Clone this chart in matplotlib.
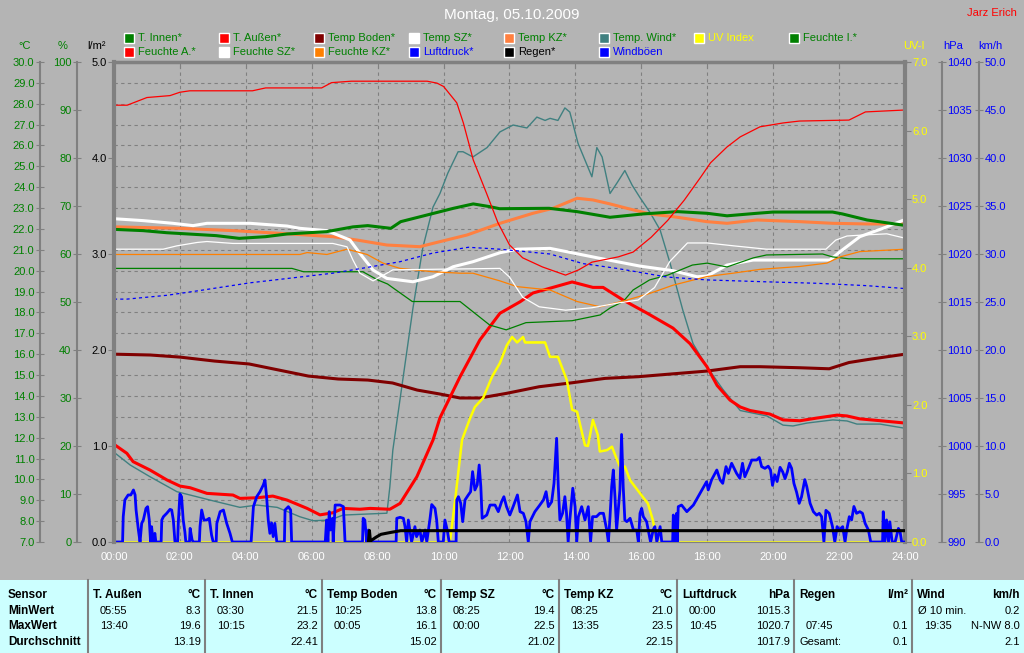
import numpy as np
import matplotlib
matplotlib.use('Agg')
import matplotlib.pyplot as plt
import matplotlib.ticker as ticker
from matplotlib.patches import Rectangle
from matplotlib.lines import Line2D

plt.rcParams['font.family'] = ['Liberation Sans', 'DejaVu Sans']
plt.rcParams['font.size'] = 8

BG = '#b4b4b4'
GRID = '#808080'
GREEN = '#008000'
BLUE = '#0000ff'
YELLOW = '#ffff00'

# ---- data (hours of day, values) ----
t_innen_h = [0, 0.88, 1.6, 3.1, 3.8, 4.6, 5.25, 6.45, 7.25, 7.7, 8.4, 8.7, 9.7, 10.3, 10.9, 11.4, 11.7,
             13.2, 14.05, 15.05, 16.05, 17.1, 18.0, 18.6, 19.5, 20.0, 21.8, 22.1, 22.85, 24.0]
t_innen = [21.98, 21.92, 21.82, 21.68, 21.55, 21.63, 21.76, 21.87, 22.1, 22.16, 22.03, 22.35, 22.75, 22.99,
           23.2, 23.07, 22.97, 22.99, 22.83, 22.56, 22.72, 22.83, 22.75, 22.63, 22.75, 22.81, 22.81, 22.72,
           22.43, 22.17]

t_aussen_h = [0, 0.39, 0.58, 1.09, 1.61, 2.0, 2.31, 2.82, 3.61, 3.82, 4.34, 4.82, 5.25, 5.86, 6.25, 6.64,
              6.95, 7.46, 7.77, 8.37, 8.68, 9.19, 9.68, 9.89, 10.5, 11.1, 11.71, 12.32, 12.71, 13.9, 14.53,
              14.84, 15.44, 16.17, 16.96, 17.48, 17.99, 18.3, 18.69, 19.0, 19.3, 19.9, 20.3, 20.81, 21.33,
              21.94, 22.24, 22.63, 23.33, 24.0]
t_aussen = [11.68, 11.25, 10.85, 10.45, 9.97, 9.68, 9.6, 9.33, 9.25, 9.09, 9.12, 9.2, 9.01, 8.61, 8.3, 8.4,
            8.61, 8.57, 8.61, 8.57, 8.85, 10.13, 11.89, 12.95, 14.92, 16.68, 17.96, 18.51, 18.93, 19.46,
            19.2, 19.2, 18.6, 17.97, 17.25, 16.5, 15.4, 14.5, 13.8, 13.47, 13.3, 13.13, 12.85, 12.81, 12.94,
            13.08, 13.04, 12.9, 12.8, 12.7]

t_boden_h = [0, 1.1, 2.0, 3.05, 4.1, 5.0, 5.9, 6.8, 7.7, 8.45, 9.2, 9.89, 10.5, 11.1, 11.9, 12.9, 13.9,
             14.9, 15.9, 16.9, 17.99, 19.0, 19.6, 20.8, 21.7, 22.3, 22.9, 24.0]
t_boden = [16.0, 15.96, 15.86, 15.67, 15.53, 15.24, 14.95, 14.81, 14.76, 14.62, 14.28, 14.09, 13.9, 13.9,
           14.12, 14.44, 14.63, 14.84, 14.92, 15.05, 15.19, 15.4, 15.4, 15.35, 15.3, 15.6, 15.75, 16.0]

t_sz_h = [0, 0.88, 1.79, 2.4, 2.82, 4.13, 5.25, 5.64, 6.46, 7.16, 7.46, 7.86, 8.28, 9.07, 9.68, 10.29,
          10.89, 11.71, 12.23, 13.23, 13.74, 14.75, 15.96, 16.96, 17.69, 17.99, 18.6, 19.39, 20.81, 21.72,
          22.03, 22.63, 23.33, 24.0]
t_sz = [22.49, 22.4, 22.27, 22.16, 22.27, 22.27, 22.14, 22.03, 21.92, 21.47, 20.83, 20.03, 19.63, 19.47,
        19.71, 20.19, 20.43, 20.86, 21.03, 21.07, 20.91, 20.59, 20.22, 20.0, 19.71, 19.74, 20.27, 20.51,
        20.51, 20.51, 20.91, 21.63, 22.03, 22.45]

t_kz_h = [0, 2.0, 3.61, 5.04, 6.64, 7.37, 8.28, 9.28, 9.68, 10.71, 11.71, 12.71, 13.32, 14.05, 14.53, 15.05,
          15.56, 16.26, 16.96, 17.99, 18.6, 19.51, 20.81, 21.81, 22.85, 24.0]
t_kz = [22.1, 22.03, 21.92, 21.79, 21.63, 21.47, 21.23, 21.15, 21.31, 21.71, 22.27, 22.75, 22.99, 23.47,
        23.39, 23.2, 22.99, 22.72, 22.59, 22.35, 22.27, 22.43, 22.35, 22.27, 22.24, 22.24]

t_wind_h = [0, 0.49, 1.09, 1.91, 2.31, 2.91, 3.82, 4.34, 4.95, 5.64, 6.04, 6.55, 6.95, 7.68, 8.28, 8.37,
            8.46, 8.59, 9.07, 9.37, 9.68, 9.89, 10.13, 10.44, 10.59, 10.89, 11.32, 11.71, 12.11, 12.53,
            12.83, 13.08, 13.23, 13.47, 13.68, 13.83, 14.08, 14.5, 14.65, 14.81, 15.05, 15.26, 15.5, 15.72,
            15.96, 16.26, 16.57, 16.87, 17.26, 17.57, 17.99, 18.48, 19.0, 19.81, 20.3, 20.6, 21.03, 21.81,
            22.24, 22.54, 23.24, 24.0]
t_wind = [11.3, 10.69, 10.13, 9.41, 9.25, 9.01, 8.66, 8.77, 8.66, 8.21, 8.02, 8.05, 8.29, 8.34, 8.38, 9.65,
          11.4, 12.85, 18.2, 21.1, 23.05, 23.7, 24.68, 25.7, 25.7, 25.45, 25.9, 26.65, 26.98, 26.84, 27.36,
          27.2, 27.3, 27.2, 27.8, 27.6, 26.1, 24.5, 25.9, 25.45, 23.7, 24.2, 24.8, 24.1, 23.5, 22.8, 21.95,
          20.37, 18.1, 16.5, 15.4, 14.3, 13.3, 13.04, 12.6, 12.56, 12.7, 12.85, 12.8, 12.65, 12.65, 12.45]

f_a_h = [0, 0.4, 1.0, 1.7, 2.0, 2.3, 4.2, 4.6, 6.3, 6.6, 7.2, 9.5, 9.8, 10.0, 10.4, 10.6, 10.9, 11.3,
         11.65, 12.0, 12.4, 13.0, 13.7, 14.1, 14.5, 15.3, 15.75, 16.3, 16.8, 17.3, 17.8, 18.1, 18.6, 19.0,
         19.6, 20.3, 20.8, 22.3, 22.8, 24.0]
f_a = [91.0, 91.0, 92.6, 93.0, 93.7, 94.0, 94.0, 94.6, 94.6, 95.7, 96.0, 96.0, 95.6, 94.9, 91.5, 87.3, 79.6,
       72.7, 66.5, 61.9, 59.2, 57.3, 55.6, 56.7, 58.3, 59.4, 60.4, 63.5, 67.0, 71.2, 76.0, 79.0, 82.3, 84.4,
       86.5, 87.3, 87.7, 87.9, 89.6, 90.0]

f_i_h = [0, 5.4, 5.75, 7.55, 8.0, 8.3, 8.7, 9.05, 10.5, 11.4, 11.9, 12.5, 13.9, 14.75, 15.05, 15.45, 15.75,
         16.25, 16.8, 17.55, 18.0, 18.6, 19.4, 19.8, 21.5, 21.8, 22.3, 24.0]
f_i = [57.0, 57.0, 56.3, 56.3, 54.6, 53.75, 51.8, 50.1, 50.1, 45.2, 44.2, 45.7, 46.1, 47.3, 48.75, 50.1,
       52.5, 54.6, 55.6, 57.7, 58.1, 57.3, 59.2, 59.8, 60.0, 59.4, 59.0, 59.0]

f_sz_h = [0, 1.49, 1.91, 2.52, 2.82, 3.61, 6.64, 7.07, 7.25, 7.46, 7.86, 8.28, 8.46, 11.71, 12.0, 12.4,
          12.9, 13.7, 14.5, 15.3, 15.9, 16.4, 16.87, 17.4, 18.0, 18.8, 19.8, 21.6, 21.9, 22.24, 22.85,
          23.45, 24.0]
f_sz = [61.0, 61.0, 61.7, 62.4, 62.6, 62.2, 62.2, 61.5, 58.75, 56.0, 54.4, 56.0, 56.7, 57.0, 55.2, 51.0,
        49.0, 48.3, 48.8, 49.8, 50.4, 53.0, 58.5, 62.3, 62.3, 61.7, 61.0, 61.0, 62.9, 63.75, 64.0, 64.2, 63.3]

f_kz_h = [0, 5.64, 5.86, 6.46, 7.07, 7.68, 8.16, 8.68, 9.68, 10.5, 10.89, 11.71, 12.23, 13.23, 14.05, 14.75,
          15.56, 16.26, 16.96, 17.99, 18.78, 19.6, 20.81, 21.63, 22.03, 22.63, 24.0]
f_kz = [59.9, 59.9, 60.3, 59.9, 61.0, 59.9, 58.1, 57.0, 56.3, 56.0, 56.0, 54.4, 53.2, 52.5, 50.1, 49.0,
        50.4, 51.8, 53.5, 55.3, 56.0, 56.8, 57.4, 58.1, 59.4, 60.5, 61.0]

druck_h = [0, 0.39, 1.61, 2.61, 4.13, 5.64, 6.64, 7.68, 8.68, 9.68, 10.75, 11.71, 13.23, 14.23, 15.26,
           16.78, 17.99, 19.81, 21.33, 22.85, 24.0]
druck = [1015.3, 1015.3, 1015.7, 1016.2, 1017.0, 1017.6, 1018.0, 1018.6, 1019.2, 1020.1, 1020.7, 1020.5,
         1020.0, 1019.0, 1018.5, 1017.6, 1017.3, 1017.1, 1016.95, 1016.7, 1016.4]

uv_h = [0, 10.19, 10.35, 10.56, 10.8, 10.95, 11.2, 11.47, 11.71, 11.92, 12.08, 12.23, 12.41, 12.47, 13.08,
        13.23, 13.47, 13.74, 13.9, 14.05, 14.29, 14.38, 14.53, 14.68, 14.74, 14.96, 15.11, 15.26, 15.35,
        15.5, 15.66, 15.96, 16.2, 16.35, 16.47, 24.0]
uv = [0, 0, 0.61, 1.49, 1.8, 1.97, 2.1, 2.41, 2.61, 2.87, 2.99, 2.91, 2.99, 2.91, 2.91, 2.7, 2.7, 2.36,
      1.93, 1.9, 1.41, 1.4, 1.78, 1.56, 1.32, 1.34, 1.39, 1.2, 1.1, 1.1, 0.9, 0.71, 0.56, 0.32, 0, 0]

regen_h = [7.72, 7.75, 7.78, 7.95, 8.1, 8.4, 8.7, 24.0]
regen = [0, 0.12, 0.01, 0.05, 0.08, 0.1, 0.118, 0.118]

boeen_h = [0, 0.26, 0.28, 0.33, 0.43, 0.51, 0.59, 0.64, 0.67, 0.74, 0.79, 0.84, 0.89, 0.97, 1.02, 1.07,
           1.11, 1.14, 1.19, 1.24, 1.27, 1.43, 1.45, 1.5, 1.6, 1.7, 1.75, 1.8, 1.85, 1.93, 1.95, 2.0, 2.05,
           2.1, 2.15, 2.18, 2.29, 2.31, 2.37, 2.41, 2.59, 2.61, 2.66, 2.73, 2.81, 2.89, 2.96, 3.01, 3.1,
           3.12, 3.22, 3.32, 3.42, 3.52, 3.59, 4.16, 4.23, 4.33, 4.43, 4.53, 4.58, 4.63, 4.68, 4.73, 4.78,
           4.83, 4.88, 4.94, 5.17, 5.19, 5.29, 5.36, 5.39, 6.41, 6.45, 6.49, 6.53, 6.57, 6.63, 6.65, 6.71,
           6.86, 6.96, 7.01, 7.54, 7.56, 7.61, 7.67, 7.72, 7.77, 8.56, 8.58, 8.68, 8.78, 8.83, 8.88, 8.93,
           9.03, 9.13, 9.18, 9.28, 9.34, 9.44, 9.49, 9.59, 9.64, 9.74, 9.79, 9.84, 9.99, 10.04, 10.11,
           10.17, 10.38, 10.4, 10.45, 10.52, 10.58, 10.65, 10.75, 10.82, 10.88, 10.95, 11.02, 11.08, 11.13,
           11.17, 11.31, 11.41, 11.56, 11.66, 11.76, 11.83, 11.91, 12.01, 12.11, 12.24, 12.32, 12.42, 12.5,
           12.57, 12.62, 12.77, 12.92, 13.03, 13.11, 13.18, 13.28, 13.35, 13.43, 13.48, 13.53, 13.61, 13.68,
           13.73, 13.78, 13.83, 13.92, 13.99, 14.04, 14.09, 14.19, 14.29, 14.39, 14.46, 14.52, 14.64, 14.74,
           14.85, 14.9, 14.95, 15.0, 15.05, 15.1, 15.15, 15.2, 15.25, 15.3, 15.35, 15.4, 15.45, 15.5, 15.56,
           15.66, 15.76, 15.86, 15.91, 15.96, 16.01, 16.06, 16.16, 16.21, 16.28, 16.36, 16.41, 16.47, 16.57,
           16.62, 16.95, 16.97, 17.02, 17.07, 17.09, 17.12, 17.22, 17.38, 17.58, 17.78, 17.98, 18.03, 18.13,
           18.29, 18.39, 18.47, 18.57, 18.64, 18.74, 18.89, 18.99, 19.07, 19.14, 19.25, 19.35, 19.5, 19.58,
           19.65, 19.75, 19.85, 19.92, 19.98, 20.05, 20.12, 20.21, 20.29, 20.36, 20.43, 20.49, 20.56, 20.63,
           20.71, 20.79, 20.86, 20.96, 21.02, 21.12, 21.22, 21.32, 21.4, 21.47, 21.54, 21.6, 21.7, 21.8,
           21.87, 21.94, 22.0, 22.11, 22.18, 22.23, 22.31, 22.38, 22.45, 22.53, 22.63, 22.71, 22.79, 22.89,
           22.96, 23.32, 23.34, 23.39, 23.44, 23.5, 23.54, 23.61, 23.7, 23.8, 23.85, 23.9, 24.0]
boeen = [0, 0, 2.64, 4.38, 4.9, 4.9, 5.42, 4.9, 3.33, 1.25, 0, 1.94, 2.29, 3.5, 3.68, 2.29,
         0, 1.6, 0, 0.9, 0, 0, 2.29, 2.64, 2.99, 3.4, 3.33, 2.29, 0, 0, 1.94, 5.0, 4.72,
         2.29, 1.07, 0, 0, 1.42, 0.2, 0, 0, 1.6, 3.33, 2.29, 2.29, 2.47, 0.73, 0, 0,
         1.94, 3.16, 3.33, 1.94, 0.9, 0, 0, 3.68, 4.72, 5.24, 5.94, 6.46, 4.72, 2.29, 0.9, 2.0,
         0.56, 1.94, 0, 0, 3.33, 3.68, 3.33, 0, 0, 2.29, 0, 3.16, 1.25, 2.47, 0, 3.85,
         3.85, 3.68, 0, 0, 2.47, 2.29, 0, 1.25, 0, 0, 2.47, 2.57, 2.47, 1.6, 0, 2.29,
         0, 1.6, 0.56, 1.25, 0, 1.25, 0, 2.47, 3.9, 3.5, 2.29, 0, 0, 2.29, 1.25,
         0, 0, 4.38, 4.72, 4.03, 2.12, 4.38, 4.9, 5.24, 7.33, 5.42, 5.94, 8.02, 5.76,
         2.47, 2.81, 3.85, 3.85, 3.16, 4.2, 4.72, 3.68, 2.81, 3.68, 4.9, 3.16, 2.99, 2.12,
         0, 2.12, 3.16, 3.85, 4.38, 5.24, 3.68, 4.2, 6.11, 10.8, 5.76, 2.29, 2.99, 4.72,
         2.99, 0, 2.29, 5.6, 3.68, 0, 2.64, 3.68, 2.29, 3.68, 0, 2.64, 2.64, 2.99,
         2.99, 2.12, 1.25, 0, 2.64, 5.76, 7.5, 4.72, 1.25, 3.33, 5.42, 11.2, 5.76, 2.29, 2.12,
         2.47, 1.25, 1.25, 0, 2.99, 3.5, 2.64, 2.12, 1.25, 0, 1.25, 1.6, 0, 1.6,
         0, 0, 2.81, 0, 2.99, 0, 3.68, 3.85, 3.16, 3.85, 5.07, 6.28, 5.42, 6.46,
         7.5, 6.46, 6.11, 7.85, 7.15, 8.2, 7.15, 6.63, 8.2, 6.8, 7.67, 8.54, 8.54, 8.8,
         7.85, 7.67, 7.9, 7.5, 5.9, 7.0, 6.3, 7.78, 7.3, 6.6, 7.3, 8.2, 7.67, 6.1,
         5.2, 4.03, 4.7, 6.5, 5.76, 4.03, 3.16, 2.8, 2.99, 2.64, 0, 3.3, 2.99, 1.6,
         0, 1.6, 1.25, 1.6, 0, 1.25, 2.64, 2.3, 3.7, 2.99, 3.16, 2.99, 1.94, 1.25,
         0, 0, 3.16, 0, 2.3, 0, 2.1, 0, 0, 1.42, 1.07, 0, 0]

hours = list(range(0, 25, 2))
hour_labels = ['%02d:00' % h for h in hours]

leg_names = ['T. Innen*', 'T. Außen*', 'Temp Boden*', 'Temp SZ*', 'Temp KZ*', 'Temp. Wind*', 'UV Index',
             'Feuchte I.*', 'Feuchte A.*', 'Feuchte SZ*', 'Feuchte KZ*', 'Luftdruck*', 'Regen*', 'Windböen']
leg_colors = [GREEN, '#ff0000', '#800000', '#ffffff', '#ff8040', '#408080', YELLOW,
              GREEN, '#ff0000', '#ffffff', '#ff8000', BLUE, '#000000', BLUE]
leg_textcolors = [GREEN, GREEN, GREEN, GREEN, GREEN, GREEN, YELLOW,
                  GREEN, GREEN, GREEN, GREEN, BLUE, '#000000', BLUE]

tab_names = ['T. Außen', 'T. Innen', 'Temp Boden', 'Temp SZ', 'Temp KZ', 'Luftdruck', 'Regen', 'Wind']
tab_units = ['°C', '°C', '°C', '°C', '°C', 'hPa', 'l/m²', 'km/h']
tab_min_time = ['05:55', '03:30', '10:25', '08:25', '08:25', '00:00', '', 'Ø 10 min.']
tab_min_val = ['8.3', '21.5', '13.8', '19.4', '21.0', '1015.3', '', '0.2']
tab_max_time = ['13:40', '10:15', '00:05', '00:00', '13:35', '10:45', '07:45', '19:35']
tab_max_val = ['19.6', '23.2', '16.1', '22.5', '23.5', '1020.7', '0.1', 'N-NW 8.0']
tab_avg_label = ['', '', '', '', '', '', 'Gesamt:', '']
tab_avg_val = ['13.19', '22.41', '15.02', '21.02', '22.15', '1017.9', '0.1', '2.1']

W, H = 1024, 653


def fx(x):
    return x / W


def fy(y):
    return 1 - y / H


fig = plt.figure(figsize=(10.24, 6.53), dpi=100, facecolor=BG)
left, right, top, bottom = 114, 905, 62, 542
ax = fig.add_axes([fx(left), fy(bottom), (right - left) / W, (bottom - top) / H])
ax.set_facecolor(BG)
ax.set_xlim(0, 24)
ax.set_ylim(7, 30)
span = right - left

# host axis: °C
ax.spines['right'].set_visible(False)
ax.spines['top'].set_color(GRID)
ax.spines['top'].set_linewidth(2.5)
ax.spines['bottom'].set_color(GRID)
ax.spines['left'].set_position(('axes', (40 - left) / span))
ax.spines['left'].set_color(GRID)
ax.spines['left'].set_linewidth(1.5)
ax.set_yticks(np.arange(7, 31, 1))
ax.yaxis.set_major_formatter(ticker.FormatStrFormatter('%.1f'))
ax.tick_params(axis='y', direction='inout', length=6, color=GRID, labelcolor=GREEN, pad=1)
ax.set_xticks(hours)
ax.set_xticklabels(hour_labels)
ax.tick_params(axis='x', bottom=False, top=True, direction='in', length=4, color=GRID,
               labelcolor='white', pad=7)
ax.grid(True, color=GRID, linestyle=(0, (3, 3)), linewidth=0.8)
ax.set_axisbelow(True)


def twin(side, pos, ylim, ticks, fmt, color, tickdir='inout', lw=1.5, length=6):
    a = ax.twinx()
    a.set_ylim(*ylim)
    for s in a.spines.values():
        s.set_visible(False)
    sp = a.spines[side]
    sp.set_visible(True)
    sp.set_position(('axes', pos))
    sp.set_color(GRID)
    sp.set_linewidth(lw)
    a.yaxis.set_ticks_position(side)
    a.yaxis.set_label_position(side)
    a.set_yticks(ticks)
    a.yaxis.set_major_formatter(ticker.FormatStrFormatter(fmt))
    a.tick_params(axis='y', direction=tickdir, length=length, color=GRID, labelcolor=color, pad=1)
    return a


ax_pct = twin('left', (77 - left) / span, (0, 100), np.arange(0, 101, 10), '%d', GREEN)
ax_hpa = twin('right', (942 - left) / span, (990, 1040), np.arange(990, 1041, 5), '%d', BLUE)
ax_uv = twin('right', 1.0, (0, 7), np.arange(0, 8, 1), '%.1f', YELLOW, tickdir='out', lw=3, length=4)
ax_kmh = twin('right', (979 - left) / span, (0, 50), np.arange(0, 51, 5), '%.1f', BLUE)
ax_rain = twin('left', 0.0, (0, 5), np.arange(0, 6, 1), '%.1f', 'black', tickdir='out', lw=3, length=4)

# temperatures (°C)
ax.plot(t_wind_h, t_wind, color='#408080', lw=1)
ax.plot(t_boden_h, t_boden, color='#800000', lw=2.2)
ax.plot(t_aussen_h, t_aussen, color='#ff0000', lw=2.2)
ax.plot(t_kz_h, t_kz, color='#ff8040', lw=2.2)
ax.plot(t_sz_h, t_sz, color='white', lw=2.2)
ax.plot(t_innen_h, t_innen, color=GREEN, lw=2.2)

# humidities (%)
ax_pct.plot(f_a_h, f_a, color='#ff0000', lw=0.9)
ax_pct.plot(f_i_h, f_i, color=GREEN, lw=0.9)
ax_pct.plot(f_kz_h, f_kz, color='#ff8000', lw=0.9)
ax_pct.plot(f_sz_h, f_sz, color='white', lw=0.9)

# pressure
ax_hpa.plot(druck_h, druck, color=BLUE, lw=0.9, linestyle=(0, (2.5, 2.5)))

# UV index
uv_h_a = np.array(uv_h)
uv_a = np.array(uv)
ax_uv.plot(uv_h_a, uv_a, color=YELLOW, lw=1)
day = (uv_h_a >= 10.19) & (uv_h_a <= 16.47)
ax_uv.plot(uv_h_a[day], uv_a[day], color=YELLOW, lw=1.8)

# gusts
ax_kmh.plot(boeen_h, boeen, color=BLUE, lw=2)

# rain
ax_rain.plot(regen_h, regen, color='black', lw=2.2)

# ---- texts ----
fig.text(fx(512), fy(15), 'Montag, 05.10.2009', color='white', fontsize=11, ha='center', va='center')
fig.text(fx(1017), fy(13), 'Jarz Erich', color='#ff0000', fontsize=8, ha='right', va='center')

for lab, xc, c in [('°C', 25, GREEN), ('%', 63, GREEN), ('l/m²', 96, 'black'),
                   ('UV-I', 914, YELLOW), ('hPa', 953, BLUE), ('km/h', 990, BLUE)]:
    fig.text(fx(xc), fy(46), lab, color=c, ha='center', va='center', fontsize=8)

# legend
col_x = [124, 219, 314, 409, 504, 599, 694, 789]
row_y = [38, 52]
for i, (name, c, tc) in enumerate(zip(leg_names, leg_colors, leg_textcolors)):
    r, k = divmod(i, 8)
    x0, y0 = col_x[k], row_y[r]
    fig.add_artist(Rectangle((fx(x0), fy(y0 + 5)), 10 / W, 10 / H, transform=fig.transFigure,
                             facecolor=c, edgecolor='white', lw=1))
    fig.text(fx(x0 + 14), fy(y0), name, color=tc, ha='left', va='center', fontsize=8)

# ---- table ----
fig.add_artist(Rectangle((0, 0), 1, fy(580), transform=fig.transFigure, facecolor='#ccffff',
                         edgecolor='none'))
bounds = [0, 88, 205, 322, 441, 559, 677, 794, 912, 1024]
for b in bounds[1:-1]:
    fig.add_artist(Line2D([fx(b), fx(b)], [0, fy(580)], transform=fig.transFigure, color=GRID, lw=1.5))

FB, FR = 8.5, 8
rows_y = [595, 611, 626, 642]
for lab, y in zip(['Sensor', 'MinWert', 'MaxWert', 'Durchschnitt'], rows_y):
    fig.text(fx(8), fy(y), lab, fontsize=FB, fontweight='bold', ha='left', va='center')

for i in range(len(tab_names)):
    l, r = bounds[i + 1], bounds[i + 2]
    fig.text(fx(l + 5), fy(rows_y[0]), tab_names[i], fontsize=FB, fontweight='bold', va='center')
    fig.text(fx(r - 4), fy(rows_y[0]), tab_units[i], fontsize=FB, fontweight='bold', va='center',
             ha='right')
    tx = l + 6 if tab_min_time[i].startswith('Ø') else l + 12
    fig.text(fx(tx), fy(rows_y[1]), tab_min_time[i], fontsize=FR, va='center')
    fig.text(fx(r - 4), fy(rows_y[1]), tab_min_val[i], fontsize=FR, va='center', ha='right')
    fig.text(fx(l + 12), fy(rows_y[2]), tab_max_time[i], fontsize=FR, va='center')
    fig.text(fx(r - 4), fy(rows_y[2]), tab_max_val[i], fontsize=FR, va='center', ha='right')
    fig.text(fx(l + 5), fy(rows_y[3]), tab_avg_label[i], fontsize=FR, va='center')
    fig.text(fx(r - 4), fy(rows_y[3]), tab_avg_val[i], fontsize=FR, va='center', ha='right')

fig.savefig('out.png', dpi=100, facecolor=BG)
